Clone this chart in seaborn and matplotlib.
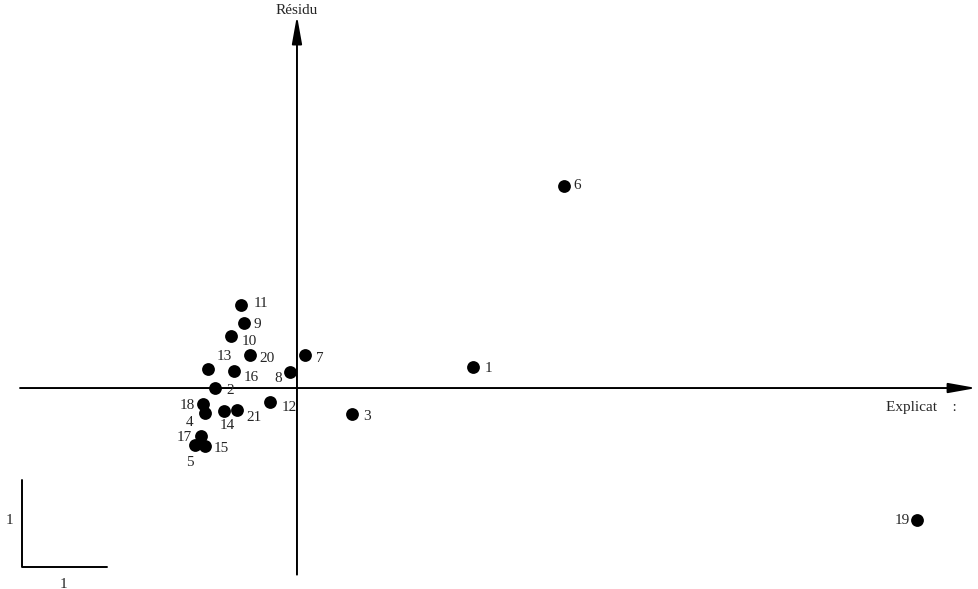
import matplotlib
matplotlib.use("Agg")
import matplotlib.pyplot as plt
import pandas as pd
import seaborn as sns

# Observations plotted in the (explained, residual) plane
labels = ["1", "2", "3", "4", "5", "6", "7", "8", "9", "10", "11",
          "12", "13", "14", "15", "16", "17", "18", "19", "20", "21"]
explicat = [2.05, -0.95, 0.64, -1.07, -1.19, 3.10, 0.09, -0.08, -0.62, -0.77, -0.65,
            -0.31, -1.03, -0.85, -1.07, -0.73, -1.12, -1.09, 7.21, -0.55, -0.70]
residu = [0.24, 0.00, -0.30, -0.29, -0.66, 2.35, 0.38, 0.19, 0.76, 0.60, 0.97,
          -0.16, 0.22, -0.27, -0.67, 0.20, -0.56, -0.19, -1.53, 0.38, -0.26]

df = pd.DataFrame({"explicat": explicat, "residu": residu, "label": labels})

# label placement around each dot (offset in points, horizontal alignment)
label_pos = {
    "1": (8, -1, "left"), "2": (8, -2, "left"), "3": (8, -2, "left"),
    "4": (-8, -7, "right"), "5": (-1, -13, "right"), "6": (7, 0, "left"),
    "7": (8, -2, "left"), "8": (-6, -5, "right"), "9": (7, -1, "left"),
    "10": (8, -4, "left"), "11": (9, 1, "left"), "12": (8, -4, "left"),
    "13": (6, 9, "left"), "14": (-3, -10, "left"), "15": (6, -2, "left"),
    "16": (7, -5, "left"), "17": (-6, -1, "right"), "18": (-6, -1, "right"),
    "19": (-5, -1, "right"), "20": (7, -2, "left"), "21": (7, -5, "left"),
}

sns.set_style("white")
plt.rcParams["font.family"] = ["Liberation Serif", "DejaVu Serif"]

fig = plt.figure(figsize=(9.79, 5.89), dpi=100)
ax = fig.add_axes([0, 0, 1, 1])
ax.set_xlim(-3.453, 7.930)
ax.set_ylim(-2.337, 4.512)

# axes with arrows
arrow = dict(arrowstyle="-|>,head_length=1.4,head_width=0.25", lw=1.4, color="black",
             shrinkA=0, shrinkB=0, mutation_scale=12)
ax.annotate("", xy=(7.90, 0), xytext=(-3.22, 0), arrowprops=arrow)
ax.annotate("", xy=(0, 4.33), xytext=(0, -2.17), arrowprops=arrow)

sns.scatterplot(data=df, x="explicat", y="residu", ax=ax, color="black",
                s=85, edgecolor="black", linewidth=0, legend=False, zorder=3)

for _, row in df.iterrows():
    dx, dy, ha = label_pos[row["label"]]
    ax.annotate(row["label"], (row["explicat"], row["residu"]),
                xytext=(dx, dy), textcoords="offset points",
                ha=ha, va="center", fontsize=11)

ax.text(0, 4.39, "Résidu", ha="center", va="center", fontsize=11)
ax.text(6.85, -0.23, "Explicat    :", ha="left", va="center", fontsize=11)

# unit scale bar
ax.plot([-3.20, -3.20, -2.21], [-1.07, -2.08, -2.08], color="black", lw=1.4)
ax.text(-3.34, -1.54, "1", ha="center", va="center", fontsize=11)
ax.text(-2.71, -2.28, "1", ha="center", va="center", fontsize=11)

ax.set_axis_off()
plt.savefig("out.png", dpi=100)
plt.close()
